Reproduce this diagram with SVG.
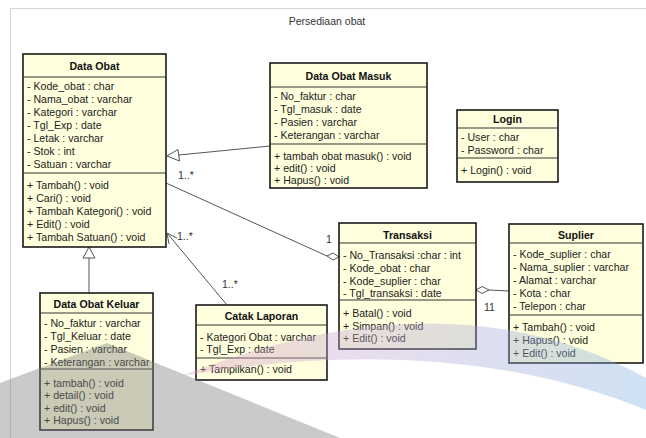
<svg xmlns="http://www.w3.org/2000/svg" width="646" height="438" viewBox="0 0 646 438">
<style>
.box{fill:#ffffdd;stroke:#1a1a1a;stroke-width:1.6}
.sep{stroke:#333;stroke-width:1}
.t{font-family:"Liberation Sans",Arial,sans-serif;font-size:10.6px;fill:#222}
.h{font-family:"Liberation Sans",Arial,sans-serif;font-size:10.6px;font-weight:bold;fill:#111;text-anchor:middle}
.c{stroke:#555;stroke-width:1;fill:none}
.lbl{font-family:"Liberation Sans",Arial,sans-serif;font-size:10.5px;fill:#333}
</style>
<rect x="0" y="0" width="646" height="438" fill="#ffffff"/>
<path d="M10.5 438 V8.5 H646" fill="none" stroke="#d4d4d4" stroke-width="1"/>
<text x="327" y="25" class="lbl" text-anchor="middle">Persediaan obat</text>

<g id="connectors">
  <line class="c" x1="270" y1="146" x2="179" y2="155"/>
  <polygon points="167,156 178,149.5 179.5,161" fill="#fff" stroke="#555" stroke-width="1"/>
  <line class="c" x1="166" y1="183" x2="327" y2="256"/>
  <polygon points="339,257 333,253 327,256 333,260" fill="#fff" stroke="#555" stroke-width="1"/>
  <line class="c" x1="227" y1="305" x2="167" y2="233"/>
  <polyline class="c" points="169,244 167,233 177,238"/>
  <line class="c" x1="89" y1="293" x2="89" y2="258"/>
  <polygon points="89,247 83,258 95,258" fill="#fff" stroke="#555" stroke-width="1"/>
  <line class="c" x1="489" y1="290" x2="509" y2="291"/>
  <polygon points="476,290 482,286.5 489,290 482,293.5" fill="#fff" stroke="#555" stroke-width="1"/>
  <text class="lbl" x="178" y="179">1..*</text>
  <text class="lbl" x="326" y="243">1</text>
  <text class="lbl" x="177" y="240">1..*</text>
  <text class="lbl" x="222" y="288">1..*</text>
  <text class="lbl" x="484" y="311">11</text>
</g>

<g id="data-obat">
  <rect class="box" x="23" y="54" width="143" height="193"/>
  <line class="sep" x1="23" y1="77" x2="166" y2="77"/>
  <line class="sep" x1="23" y1="173" x2="166" y2="173"/>
  <text class="h" x="94.5" y="70">Data Obat</text>
  <text class="t" x="27" y="90">- Kode_obat : char</text>
  <text class="t" x="27" y="103">- Nama_obat : varchar</text>
  <text class="t" x="27" y="116">- Kategori : varchar</text>
  <text class="t" x="27" y="129">- Tgl_Exp : date</text>
  <text class="t" x="27" y="142">- Letak : varchar</text>
  <text class="t" x="27" y="155">- Stok : int</text>
  <text class="t" x="27" y="168">- Satuan : varchar</text>
  <text class="t" x="27" y="189">+ Tambah() : void</text>
  <text class="t" x="27" y="202">+ Cari() : void</text>
  <text class="t" x="27" y="215">+ Tambah Kategori() : void</text>
  <text class="t" x="27" y="228">+ Edit() : void</text>
  <text class="t" x="27" y="241">+ Tambah Satuan() : void</text>
</g>

<g id="data-obat-masuk">
  <rect class="box" x="270" y="63" width="157" height="125"/>
  <line class="sep" x1="270" y1="87" x2="427" y2="87"/>
  <line class="sep" x1="270" y1="144" x2="427" y2="144"/>
  <text class="h" x="348.5" y="80">Data Obat Masuk</text>
  <text class="t" x="274" y="100">- No_faktur : char</text>
  <text class="t" x="274" y="113">- Tgl_masuk : date</text>
  <text class="t" x="274" y="126">- Pasien : varchar</text>
  <text class="t" x="274" y="139">- Keterangan : varchar</text>
  <text class="t" x="274" y="160">+ tambah obat masuk() : void</text>
  <text class="t" x="274" y="172">+ edit() : void</text>
  <text class="t" x="274" y="184">+ Hapus() : void</text>
</g>

<g id="login">
  <rect class="box" x="457" y="110" width="101" height="72"/>
  <line class="sep" x1="457" y1="128" x2="558" y2="128"/>
  <line class="sep" x1="457" y1="158" x2="558" y2="158"/>
  <text class="h" x="507.5" y="123">Login</text>
  <text class="t" x="461" y="141">- User : char</text>
  <text class="t" x="461" y="154">- Password : char</text>
  <text class="t" x="461" y="174">+ Login() : void</text>
</g>

<g id="transaksi">
  <rect class="box" x="339" y="223" width="137" height="126"/>
  <line class="sep" x1="339" y1="243" x2="476" y2="243"/>
  <line class="sep" x1="339" y1="300" x2="476" y2="300"/>
  <text class="h" x="407.5" y="239">Transaksi</text>
  <text class="t" x="343" y="259">- No_Transaksi :char : int</text>
  <text class="t" x="343" y="272">- Kode_obat : char</text>
  <text class="t" x="343" y="285">- Kode_suplier : char</text>
  <text class="t" x="343" y="297">- Tgl_transaksi : date</text>
  <text class="t" x="343" y="317">+ Batal() : void</text>
  <text class="t" x="343" y="330">+ Simpan() : void</text>
  <text class="t" x="343" y="342">+ Edit() : void</text>
</g>

<g id="suplier">
  <rect class="box" x="509" y="224" width="134" height="139"/>
  <line class="sep" x1="509" y1="243" x2="643" y2="243"/>
  <line class="sep" x1="509" y1="315" x2="643" y2="315"/>
  <text class="h" x="576" y="239">Suplier</text>
  <text class="t" x="513" y="258">- Kode_suplier : char</text>
  <text class="t" x="513" y="271">- Nama_suplier : varchar</text>
  <text class="t" x="513" y="284">- Alamat : varchar</text>
  <text class="t" x="513" y="297">- Kota : char</text>
  <text class="t" x="513" y="310">- Telepon : char</text>
  <text class="t" x="513" y="331">+ Tambah() : void</text>
  <text class="t" x="513" y="344">+ Hapus() : void</text>
  <text class="t" x="513" y="357">+ Edit() : void</text>
</g>

<g id="data-obat-keluar">
  <rect class="box" x="40" y="293" width="113" height="137"/>
  <line class="sep" x1="40" y1="313" x2="153" y2="313"/>
  <line class="sep" x1="40" y1="369" x2="153" y2="369"/>
  <text class="h" x="96.5" y="308">Data Obat Keluar</text>
  <text class="t" x="44" y="327">- No_faktur : varchar</text>
  <text class="t" x="44" y="340">- Tgl_Keluar : date</text>
  <text class="t" x="44" y="353">- Pasien : varchar</text>
  <text class="t" x="44" y="366">- Keterangan : varchar</text>
  <text class="t" x="44" y="387">+ tambah() : void</text>
  <text class="t" x="44" y="399">+ detail() : void</text>
  <text class="t" x="44" y="412">+ edit() : void</text>
  <text class="t" x="44" y="424">+ Hapus() : void</text>
</g>

<g id="catak-laporan">
  <rect class="box" x="196" y="305" width="131" height="75"/>
  <line class="sep" x1="196" y1="325" x2="327" y2="325"/>
  <line class="sep" x1="196" y1="358" x2="327" y2="358"/>
  <text class="h" x="261.5" y="320">Catak Laporan</text>
  <text class="t" x="200" y="341">- Kategori Obat : varchar</text>
  <text class="t" x="200" y="353">- Tgl_Exp : date</text>
  <text class="t" x="200" y="373">+ Tampilkan() : void</text>
</g>

<defs>
  <linearGradient id="sw" x1="0" y1="0" x2="1" y2="0">
    <stop offset="0" stop-color="#dba0c4"/>
    <stop offset="0.4" stop-color="#c0a6d2"/>
    <stop offset="1" stop-color="#7eb0de"/>
  </linearGradient>
</defs>
<g id="watermark" pointer-events="none">
  <path d="M0 383 L107 343 L340 438 L0 438 Z" fill="#808080" opacity="0.42"/>
  <path d="M181 376 Q450 270 646 378 L646 410 Q450 330 181 376 Z" fill="url(#sw)" opacity="0.38"/>
</g>
</svg>
